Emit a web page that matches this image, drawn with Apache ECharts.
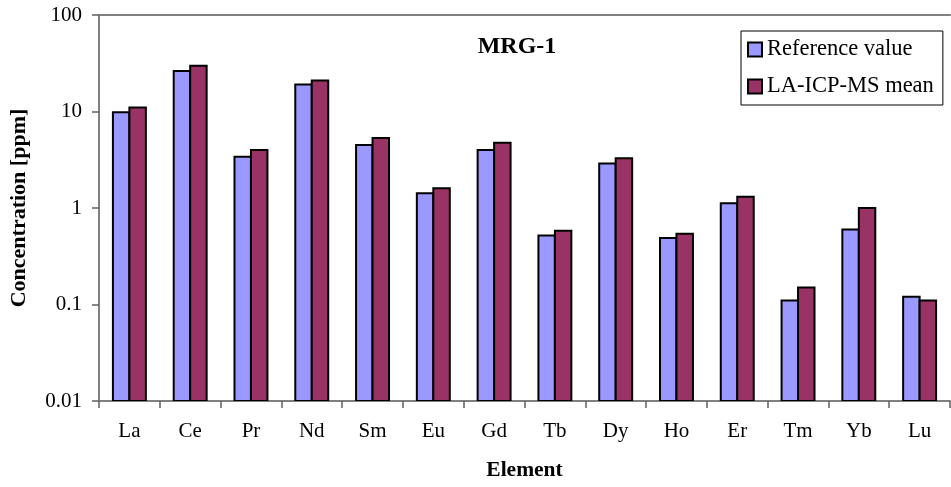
<!DOCTYPE html>
<html>
<head>
<meta charset="utf-8">
<script src="https://cdn.jsdelivr.net/npm/echarts@6/dist/echarts.min.js"></script>
<style>
html,body{margin:0;padding:0;background:#fff;}
#chart{width:951px;height:487px;}
</style>
</head>
<body>
<div id="chart"></div>
<script>
var categories = ['La','Ce','Pr','Nd','Sm','Eu','Gd','Tb','Dy','Ho','Er','Tm','Yb','Lu'];
var referenceValue = [9.8, 26.3, 3.4, 19.1, 4.5, 1.42, 4.0, 0.52, 2.9, 0.49, 1.12, 0.11, 0.60, 0.12];
var laIcpMsMean = [11.0, 29.8, 4.0, 21.0, 5.3, 1.6, 4.75, 0.58, 3.27, 0.54, 1.31, 0.15, 1.0, 0.11];
var yTickLabels = {'0.01':'0.01','0.1':'0.1','1':'1','10':'10','100':'100'};
var seriesNames = ['Reference value', 'LA-ICP-MS mean'];
var seriesColors = ['#9999FF', '#993366'];
var yMin = 0.01, yMax = 100;

var FONT = 'Liberation Serif, Times New Roman, serif';
var chart = echarts.init(document.getElementById('chart'), null, {renderer:'canvas'});

function fmtY(v){
  var keys = Object.keys(yTickLabels);
  for (var i=0;i<keys.length;i++){
    if (Math.abs(Math.log10(v) - Math.log10(parseFloat(keys[i]))) < 1e-6) return yTickLabels[keys[i]];
  }
  return '';
}

function makeRender(seriesIndex){
  return function(params, api){
    var idx = api.value(0);
    var val = api.value(1);
    var top = api.coord([idx, val]);
    var bottom = api.coord([idx, yMin]);
    var band = api.size([1, 1])[0];
    var bw = band * 0.271;
    var x = seriesIndex === 0 ? top[0] - bw : top[0];
    return {
      type: 'rect',
      shape: {x: x, y: top[1], width: bw, height: bottom[1] - top[1]},
      style: {fill: seriesColors[seriesIndex], stroke: '#000', lineWidth: 2}
    };
  };
}

function toPairs(arr){ return arr.map(function(v, i){ return [i, v]; }); }

chart.setOption({
  animation: false,
  backgroundColor: '#fff',
  title: {
    text: 'MRG-1',
    left: 517, top: 35, textAlign: 'center', padding: 0,
    textStyle: {fontFamily: FONT, fontSize: 24, fontWeight: 'bold', color: '#000'}
  },
  legend: {
    orient: 'vertical',
    left: 741, top: 31,
    padding: [7, 9, 7, 6],
    itemGap: 14,
    itemWidth: 14, itemHeight: 14,
    icon: 'rect',
    borderColor: '#000', borderWidth: 1,
    backgroundColor: '#fff',
    textStyle: {fontFamily: FONT, fontSize: 22.5, color: '#000', lineHeight: 22, padding: [0,0,0,0]},
    data: [
      {name: seriesNames[0], itemStyle: {color: seriesColors[0], borderColor: '#000', borderWidth: 2}},
      {name: seriesNames[1], itemStyle: {color: seriesColors[1], borderColor: '#000', borderWidth: 2}}
    ]
  },
  grid: {left: 97, right: 1, top: 15, bottom: 86, containLabel: false},
  xAxis: [{
    type: 'category',
    data: categories,
    name: 'Element',
    nameLocation: 'middle',
    nameGap: 58,
    nameTextStyle: {fontFamily: FONT, fontSize: 21.5, fontWeight: 'bold', color: '#000'},
    axisLine: {show: true, lineStyle: {color: '#808080', width: 2}},
    axisTick: {show: true, alignWithLabel: false, length: 7, lineStyle: {color: '#606060', width: 1.5}},
    axisLabel: {fontFamily: FONT, fontSize: 21, color: '#000', margin: 20},
    splitLine: {show: false}
  }, {
    type: 'category',
    position: 'top',
    data: categories,
    axisLine: {show: true, lineStyle: {color: '#808080', width: 2}},
    axisTick: {show: false},
    axisLabel: {show: false},
    splitLine: {show: false}
  }],
  yAxis: {
    type: 'log',
    logBase: 10,
    min: yMin, max: yMax,
    interval: 1,
    name: 'Concentration [ppm]',
    nameLocation: 'middle',
    nameGap: 69,
    nameTextStyle: {fontFamily: FONT, fontSize: 22, fontWeight: 'bold', color: '#000'},
    axisLine: {show: true, lineStyle: {color: '#808080', width: 2}},
    axisTick: {show: true, length: 7, inside: false, lineStyle: {color: '#606060', width: 1.5}},
    minorTick: {show: false},
    axisLabel: {fontFamily: FONT, fontSize: 21, color: '#000', margin: 17, formatter: fmtY},
    splitLine: {show: false}
  },
  series: [{
    name: seriesNames[0],
    type: 'custom',
    data: toPairs(referenceValue),
    encode: {x: 0, y: 1},
    itemStyle: {color: seriesColors[0], borderColor: '#000', borderWidth: 2},
    renderItem: makeRender(0),
    clip: true
  }, {
    name: seriesNames[1],
    type: 'custom',
    data: toPairs(laIcpMsMean),
    encode: {x: 0, y: 1},
    itemStyle: {color: seriesColors[1], borderColor: '#000', borderWidth: 2},
    renderItem: makeRender(1),
    clip: true
  }]
});
</script>
</body>
</html>
